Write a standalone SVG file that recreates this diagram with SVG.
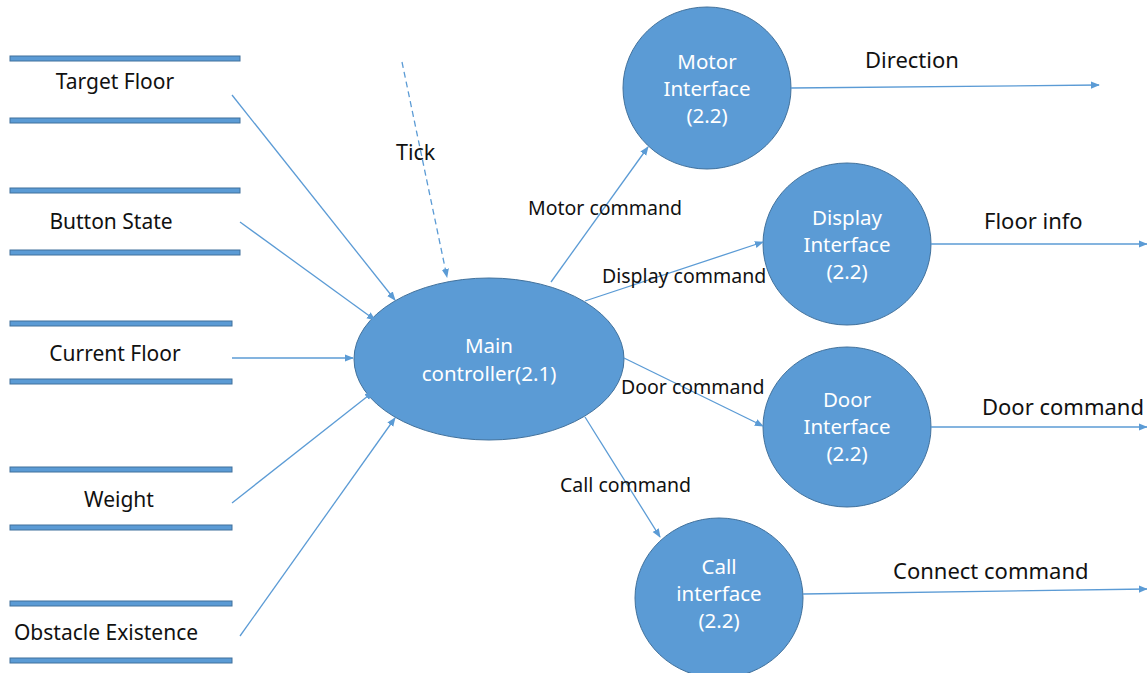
<svg xmlns="http://www.w3.org/2000/svg" width="1147" height="673" viewBox="0 0 1147 673">
  <style>
    .store { fill: #5B9BD5; stroke: #41719C; stroke-width: 1; }
    .proc { fill: #5B9BD5; stroke: #41719C; stroke-width: 1; }
    .flow { fill: none; stroke: #5B9BD5; stroke-width: 1.3; marker-end: url(#arrow); }
    .dash { stroke-dasharray: 6 4; }
    .lbl { font-family: "Noto Sans", "Noto Sans CJK KR", sans-serif; fill: #111; }
    .store-lbl { font-size: 21px; text-anchor: middle; }
    .mid-lbl { font-size: 19.5px; }
    .tick-lbl { font-size: 21.5px; }
    .out-lbl { font-size: 22px; }
    .node-lbl { font-family: "Noto Sans", "Noto Sans CJK KR", sans-serif; font-size: 20.5px; fill: #fff; text-anchor: middle; }
  </style>
  <defs>
    <marker id="arrow" viewBox="0 0 10 10" refX="9" refY="5" markerWidth="9" markerHeight="9" markerUnits="userSpaceOnUse" orient="auto">
      <path d="M0,1 L10,5 L0,9 z" fill="#5B9BD5"/>
    </marker>
  </defs>

  <rect width="1147" height="673" fill="#fff"/>

  <!-- data stores -->
  <g id="store-target-floor">
    <rect class="store" x="10" y="56" width="230" height="5"/>
    <rect class="store" x="10" y="118" width="230" height="5"/>
    <text class="lbl store-lbl" x="115" y="89">Target Floor</text>
  </g>
  <g id="store-button-state">
    <rect class="store" x="10" y="188" width="230" height="5"/>
    <rect class="store" x="10" y="250" width="230" height="5"/>
    <text class="lbl store-lbl" x="111" y="229">Button State</text>
  </g>
  <g id="store-current-floor">
    <rect class="store" x="10" y="321" width="222" height="5"/>
    <rect class="store" x="10" y="379" width="222" height="5"/>
    <text class="lbl store-lbl" x="115" y="361">Current Floor</text>
  </g>
  <g id="store-weight">
    <rect class="store" x="10" y="467" width="222" height="5"/>
    <rect class="store" x="10" y="525" width="222" height="5"/>
    <text class="lbl store-lbl" x="119" y="507">Weight</text>
  </g>
  <g id="store-obstacle">
    <rect class="store" x="10" y="601" width="222" height="5"/>
    <rect class="store" x="10" y="658" width="222" height="5"/>
    <text class="lbl store-lbl" x="106" y="640">Obstacle Existence</text>
  </g>

  <!-- processes -->
  <g id="main-controller">
    <ellipse class="proc" cx="489" cy="359" rx="135" ry="81"/>
    <text class="node-lbl" x="489" y="353">Main</text>
    <text class="node-lbl" x="489" y="381">controller(2.1)</text>
  </g>
  <g id="motor-interface">
    <ellipse class="proc" cx="707" cy="88" rx="84" ry="81"/>
    <text class="node-lbl" x="707" y="69">Motor</text>
    <text class="node-lbl" x="707" y="96">Interface</text>
    <text class="node-lbl" x="707" y="123">(2.2)</text>
  </g>
  <g id="display-interface">
    <ellipse class="proc" cx="847" cy="244" rx="84" ry="81"/>
    <text class="node-lbl" x="847" y="225">Display</text>
    <text class="node-lbl" x="847" y="252">Interface</text>
    <text class="node-lbl" x="847" y="279">(2.2)</text>
  </g>
  <g id="door-interface">
    <ellipse class="proc" cx="847" cy="427" rx="84" ry="80"/>
    <text class="node-lbl" x="847" y="407">Door</text>
    <text class="node-lbl" x="847" y="434">Interface</text>
    <text class="node-lbl" x="847" y="461">(2.2)</text>
  </g>
  <g id="call-interface">
    <ellipse class="proc" cx="719" cy="598" rx="84" ry="80"/>
    <text class="node-lbl" x="719" y="574">Call</text>
    <text class="node-lbl" x="719" y="601">interface</text>
    <text class="node-lbl" x="719" y="628">(2.2)</text>
  </g>

  <!-- flows -->
  <g id="connectors">
    <line class="flow" x1="232" y1="95" x2="395" y2="300"/>
    <line class="flow" x1="240" y1="222" x2="375" y2="320"/>
    <line class="flow" x1="232" y1="358" x2="353" y2="358"/>
    <line class="flow" x1="232" y1="503" x2="373" y2="392"/>
    <line class="flow" x1="240" y1="636" x2="395" y2="418"/>
    <line class="flow dash" x1="402" y1="62" x2="447" y2="277"/>
    <line class="flow" x1="551" y1="282" x2="648" y2="147"/>
    <line class="flow" x1="585" y1="301" x2="763" y2="242"/>
    <line class="flow" x1="624" y1="358" x2="763" y2="426"/>
    <line class="flow" x1="585" y1="417" x2="660" y2="537"/>
    <line class="flow" x1="791" y1="88" x2="1099" y2="85"/>
    <line class="flow" x1="931" y1="244" x2="1147" y2="244"/>
    <line class="flow" x1="931" y1="427" x2="1147" y2="427"/>
    <line class="flow" x1="803" y1="594" x2="1147" y2="589"/>

    <text class="lbl tick-lbl" x="396" y="160">Tick</text>
    <text class="lbl mid-lbl" x="528" y="215">Motor command</text>
    <text class="lbl mid-lbl" x="602" y="283">Display command</text>
    <text class="lbl mid-lbl" x="621" y="394">Door command</text>
    <text class="lbl mid-lbl" x="560" y="492">Call command</text>
    <text class="lbl out-lbl" x="865" y="68">Direction</text>
    <text class="lbl out-lbl" x="984" y="229">Floor info</text>
    <text class="lbl out-lbl" x="982" y="415">Door command</text>
    <text class="lbl out-lbl" x="893" y="579">Connect command</text>
  </g>
</svg>
